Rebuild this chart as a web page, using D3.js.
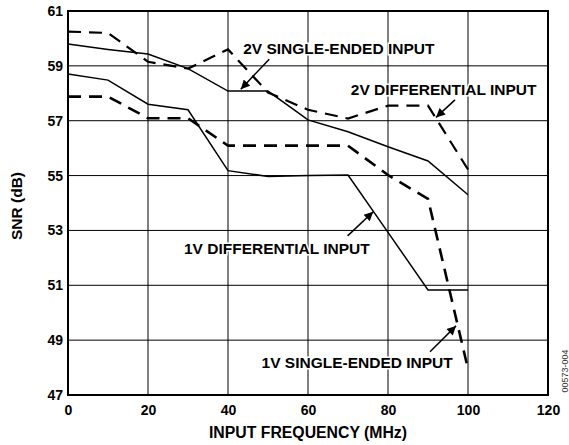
<!DOCTYPE html>
<html><head><meta charset="utf-8">
<script src="https://cdn.jsdelivr.net/npm/d3@7"></script>
<style>body{margin:0;background:#fff}svg{display:block}</style>
</head><body>
<svg id="c" width="569" height="445"></svg>
<script>
const freq = [0,10,20,30,40,50,60,70,80,90,100];
const snr2VSingle = [59.8,59.6,59.43,58.9,58.08,58.08,57.03,56.6,56.05,55.53,54.3];
const snr2VDiff   = [60.25,60.2,59.15,58.9,59.6,58.03,57.4,57.08,57.55,57.55,55.22];
const snr1VDiff   = [58.7,58.48,57.6,57.4,55.18,54.97,55.0,55.02,52.93,50.83,50.83];
const snr1VSingle = [57.88,57.88,57.09,57.09,56.09,56.09,56.09,56.09,55.02,54.15,47.95];
const xTicks = [0,20,40,60,80,100,120];
const yTicks = [47,49,51,53,55,57,59,61];
const labels = [
  {text:"2V SINGLE-ENDED INPUT", x:43.8, y:59.43, ax:50.3, ay:59.24, tx:43.2, ty:58.15},
  {text:"2V DIFFERENTIAL INPUT", x:70.7, y:57.94, ax:96.75, ay:57.76, tx:92, ty:57.12},
  {text:"1V DIFFERENTIAL INPUT", x:29, y:52.14, ax:69.9, ay:52.8, tx:76.3, ty:53.68},
  {text:"1V SINGLE-ENDED INPUT", x:48.4, y:47.98, ax:90.5, ay:48.58, tx:97, ty:49.52}
];

const svg = d3.select("#c");
const L=68, R=548, T=11, B=395;
const x = d3.scaleLinear().domain([0,120]).range([L,R]);
const y = d3.scaleLinear().domain([47,61]).range([B,T]);
const font = "'Liberation Sans', Arial, Helvetica, sans-serif";

// grid
svg.append("g").selectAll("line").data(xTicks.slice(1,-1)).join("line")
  .attr("x1",d=>x(d)).attr("x2",d=>x(d)).attr("y1",T).attr("y2",B)
  .attr("stroke","#000").attr("stroke-width",1);
svg.append("g").selectAll("line").data(yTicks.slice(1,-1)).join("line")
  .attr("y1",d=>y(d)).attr("y2",d=>y(d)).attr("x1",L).attr("x2",R)
  .attr("stroke","#000").attr("stroke-width",1);
svg.append("rect").attr("x",L).attr("y",T).attr("width",R-L).attr("height",B-T)
  .attr("fill","none").attr("stroke","#000").attr("stroke-width",2);

// axes labels via d3 axes
const xa = svg.append("g").attr("transform",`translate(0,${B})`)
  .call(d3.axisBottom(x).tickValues(xTicks).tickSize(0).tickPadding(10));
xa.select(".domain").remove();
xa.selectAll("text").attr("font-family",font).attr("font-weight","bold").attr("font-size",14).attr("fill","#000");
const ya = svg.append("g").attr("transform",`translate(${L},0)`)
  .call(d3.axisLeft(y).tickValues(yTicks).tickSize(0).tickPadding(5));
ya.select(".domain").remove();
ya.selectAll("text").attr("font-family",font).attr("font-weight","bold").attr("font-size",14).attr("fill","#000");

svg.append("text").attr("x",308).attr("y",437.5).attr("text-anchor","middle")
  .attr("font-family",font).attr("font-weight","bold").attr("font-size",15.8).text("INPUT FREQUENCY (MHz)");
svg.append("text").attr("transform","translate(21.5,206) rotate(-90)").attr("text-anchor","middle")
  .attr("font-family",font).attr("font-weight","bold").attr("font-size",15.5).text("SNR (dB)");
svg.append("text").attr("transform","translate(568,371) rotate(-90)").attr("text-anchor","middle")
  .attr("font-family",font).attr("font-size",9).attr("fill","#333").text("00573-004");

// lines
const line = d3.line().x((d,i)=>x(freq[i])).y(d=>y(d));
const series = [
  {v:snr2VSingle, dash:null, w:1.5},
  {v:snr1VDiff, dash:null, w:1.5},
  {v:snr2VDiff, dash:"13,8", w:2.2},
  {v:snr1VSingle, dash:"13,8", w:2.6}
];
series.forEach(s=>{
  svg.append("path").attr("d",line(s.v)).attr("fill","none").attr("stroke","#000")
    .attr("stroke-width",s.w).attr("stroke-dasharray",s.dash);
});

// annotations
svg.append("defs").append("marker").attr("id","ah").attr("viewBox","0 0 10 10")
  .attr("refX",10).attr("refY",5).attr("markerWidth",12).attr("markerHeight",9)
  .attr("markerUnits","userSpaceOnUse").attr("orient","auto")
  .append("path").attr("d","M0,0 L10,5 L0,10 Z").attr("fill","#000");
labels.forEach(l=>{
  svg.append("text").attr("x",x(l.x)).attr("y",y(l.y))
    .attr("font-family",font).attr("font-weight","bold").attr("font-size",15.5)
    .attr("stroke","#fff").attr("stroke-width",3).attr("paint-order","stroke").attr("fill","#000")
    .text(l.text);
  svg.append("line").attr("x1",x(l.ax)).attr("y1",y(l.ay)).attr("x2",x(l.tx)).attr("y2",y(l.ty))
    .attr("stroke","#000").attr("stroke-width",1.5).attr("marker-end","url(#ah)");
});
</script>
</body></html>
